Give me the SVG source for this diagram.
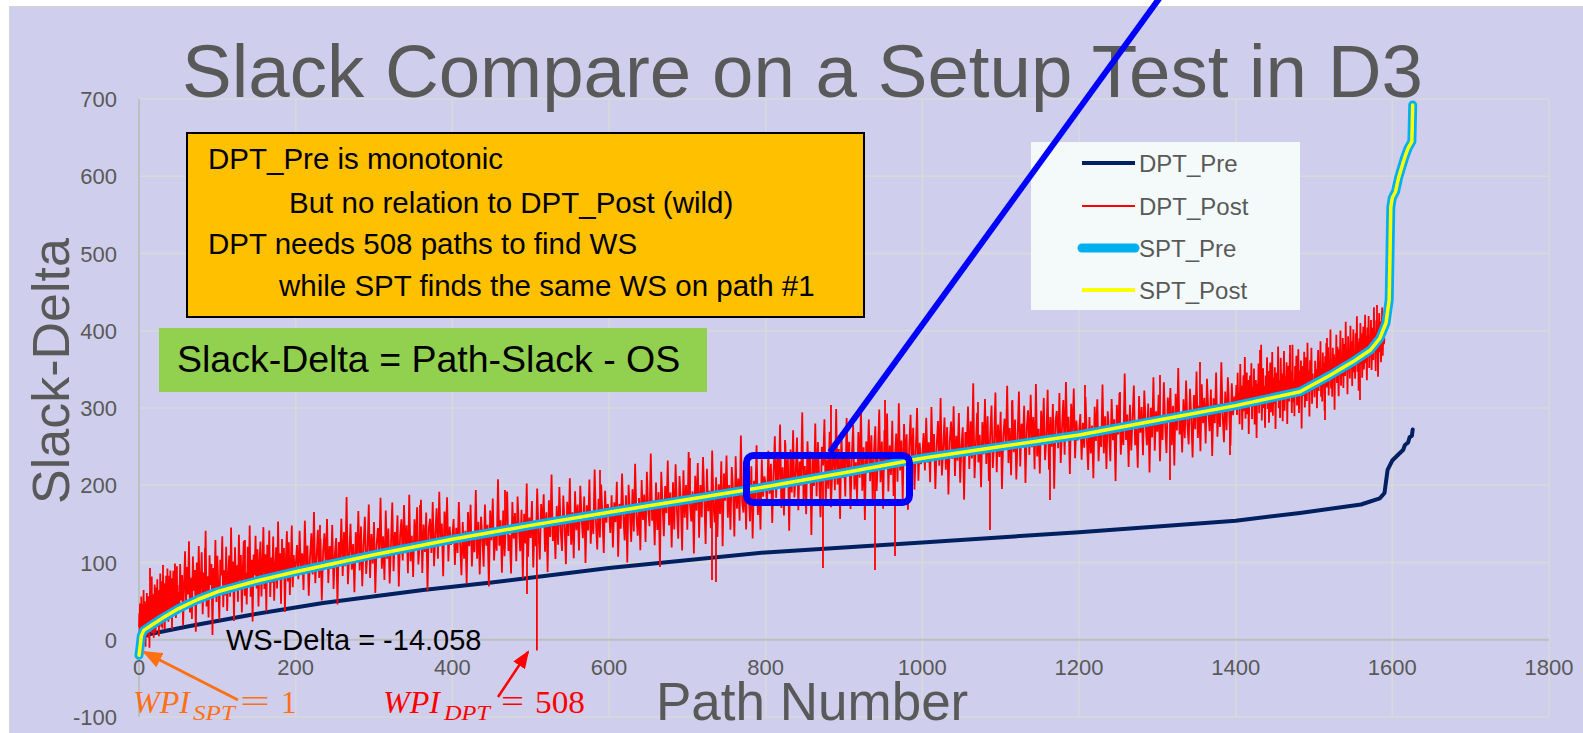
<svg xmlns="http://www.w3.org/2000/svg" xmlns:xlink="http://www.w3.org/1999/xlink" width="1583" height="733" viewBox="0 0 1583 733">
<style>
.grid{stroke:#d9d9d9;stroke-width:1.5;fill:none}
.axis{stroke:#bfbfbf;stroke-width:2;fill:none}
.tick{font-family:"Liberation Sans",Arial,sans-serif;font-size:22px;fill:#595959}
.ytick{text-anchor:end}
.xtick{text-anchor:middle}
.red{fill:none;stroke:#ff0000;stroke-width:1.8;stroke-linejoin:miter;vector-effect:non-scaling-stroke}
.navy{fill:none;stroke:#002060;stroke-width:4;stroke-linejoin:round;stroke-linecap:round}
.cyan{fill:none;stroke:#00b0f0;stroke-width:9;stroke-linejoin:round;stroke-linecap:round}
.yel{fill:none;stroke:#ffff00;stroke-width:3.5;stroke-linejoin:round;stroke-linecap:round}
.sans{font-family:"Liberation Sans",Arial,sans-serif}
.leg{font-family:"Liberation Sans",Arial,sans-serif;font-size:24px;fill:#595959}
.math{font-family:"Liberation Serif","Times New Roman",serif}
</style>
<defs>
<path id="nA" class="red" d="M0 0L1 -18 2 12 3 -30 4 6 5 -10 6 22 7 -38 8 4 9 -16 10 28 11 -6 12 -26 13 10 14 -44 15 18 16 -4 17 -28 18 14 19 -20 20 34 21 -8 22 -24 23 6 24 -36 25 20 26 -12 27 8 28 -30 29 26 30 -4 31 -18 32 40 33 -14 34 2 35 -34 36 16 37 -22 38 8 39 -52 40 24 41 -2 42 -28 43 12 44 -10 45 32 46 -20 47 6 48 -38 49 14 50 -24 51 28 52 -8 53 -32 54 18 55 -2 56 -42 57 22 58 -16 59 10 60 -26 61 36 62 -6 63 -20 64 4 65 -46 66 16 67 -12 68 26 69 -34 70 8 71 -18 72 30 73 -4 74 -40 75 20 76 -14 77 2 78 -28 79 34 80 -10 81 -24 82 12 83 -36 84 6 85 -18 86 24 87 -44 88 14 89 -8 90 28 91 -22 92 4 93 -32 94 18 95 0 96 -38 97 26 98 -16 99 8 100 -26 101 42 102 -12 103 -20 104 10 105 -34 106 22 107 -6 108 -28 109 16 110 -42 111 4 112 -14 113 32 114 -24 115 0 116 -36 117 20 118 -10 119 6 120 0"/>
<path id="nB" class="red" d="M0 0L1 16 2 -24 3 8 4 -14 5 30 6 -6 7 -34 8 12 9 -20 10 4 11 -42 12 20 13 -10 14 26 15 -28 16 2 17 -16 18 38 19 -22 20 10 21 -36 22 14 23 -4 24 -30 25 24 26 -12 27 6 28 -48 29 18 30 -8 31 28 32 -26 33 0 34 -18 35 44 36 -14 37 8 38 -38 39 16 40 -24 41 4 42 32 43 -20 44 -6 45 -40 46 22 47 -10 48 12 49 -30 50 26 51 -2 52 -22 53 14 54 -46 55 10 56 -16 57 36 58 -28 59 6 60 -12 61 20 62 -38 63 2 64 -20 65 30 66 -8 67 -32 68 16 69 -4 70 24 71 -26 72 8 73 -44 74 18 75 -14 76 40 77 -18 78 0 79 -34 80 12 81 -22 82 28 83 -10 84 -28 85 20 86 -6 87 -40 88 14 89 -16 90 34 91 -24 92 4 93 -36 94 22 95 -12 96 10 97 -30 98 26 99 -2 100 -20 101 16 102 -42 103 8 104 -14 105 30 106 -26 107 2 108 -18 109 38 110 -8 111 -32 112 12 113 -22 114 24 115 -4 116 -36 117 18 118 -10 119 6 120 0"/>
<marker id="ahO" markerWidth="20" markerHeight="16" refX="18" refY="8" orient="auto" markerUnits="userSpaceOnUse"><path d="M0 0L20 8L0 16Z" fill="#ff7014"/></marker>
<marker id="ahR" markerWidth="18" markerHeight="14" refX="16" refY="7" orient="auto" markerUnits="userSpaceOnUse"><path d="M0 0L18 7L0 14Z" fill="#ff0000"/></marker>
</defs>

<rect id="background" x="9.5" y="6.5" width="1580" height="730" fill="#cfcfed" stroke="#d4d4d4" stroke-width="1"/>

<g id="grid">
<path class="grid" d="M139 176.2H1549M139 253.5H1549M139 330.7H1549M139 408H1549M139 485.2H1549M139 562.5H1549M139 716.9H1549M139 99H1549"/>
<path class="grid" d="M295.7 99V717M452.3 99V717M609 99V717M765.7 99V717M922.3 99V717M1079 99V717M1235.7 99V717M1392.3 99V717M1549 99V717"/>
<path class="axis" d="M139 639.7H1549M139 99V717"/>
</g>

<g id="y-ticks" class="tick ytick">
<text x="117" y="107">700</text>
<text x="117" y="184">600</text>
<text x="117" y="261.5">500</text>
<text x="117" y="338.7">400</text>
<text x="117" y="416">300</text>
<text x="117" y="493.2">200</text>
<text x="117" y="570.5">100</text>
<text x="117" y="647.7">0</text>
<text x="117" y="724.9">-100</text>
</g>
<g id="x-ticks" class="tick xtick">
<text x="139" y="675">0</text>
<text x="295.7" y="675">200</text>
<text x="452.3" y="675">400</text>
<text x="609" y="675">600</text>
<text x="765.7" y="675">800</text>
<text x="922.3" y="675">1000</text>
<text x="1079" y="675">1200</text>
<text x="1235.7" y="675">1400</text>
<text x="1392.3" y="675">1600</text>
<text x="1549" y="675">1800</text>
</g>

<g id="series-dpt-pre">
<path class="navy" d="M139 637.4L150 634 190 626 250 615 323 603 423 590 491.5 582.5 609 568 765.7 552.4 922.3 542.4 1079 532.3 1235.7 520.7 1299.9 513 1361 504.5 1379.8 498.3 1384.5 493 1387.6 469.8 1392.3 460.5 1398.6 454.3 1403.3 449.7 1404.9 445 1408 442.7 1409.6 437.3 1411.9 435.8 1412.7 429.6"/>
</g>

<g id="series-dpt-post">
<use xlink:href="#nA" transform="matrix(0.3267,-0.2917,0,0.75,139,627)"/>
<use xlink:href="#nB" transform="matrix(0.9792,-0.2167,0,1.15,178.2,592)"/>
<use xlink:href="#nA" transform="matrix(1.305,-0.2358,0,1.15,295.7,566)"/>
<use xlink:href="#nB" transform="matrix(1.3058,-0.225,0,-1.15,452.3,537.7)"/>
<use xlink:href="#nA" transform="matrix(1.3058,-0.225,0,-1.25,609,510.7)"/>
<use xlink:href="#nB" transform="matrix(1.305,-0.2325,0,1.35,765.7,483.7)"/>
<use xlink:href="#nA" transform="matrix(1.3058,-0.1925,0,1.25,922.3,455.8)"/>
<use xlink:href="#nB" transform="matrix(1.3058,-0.245,0,-1.15,1079,432.7)"/>
<use xlink:href="#nA" transform="matrix(0.6525,-0.1675,0,1,1235.7,403.3)"/>
<use xlink:href="#nB" transform="matrix(0.5875,-0.3733,0,0.9,1314,383.2)"/>
<path class="red" d="M150 618V568M163 606V565M205 588V548M245 579V540M320 562V525M420 543V505M505 529V490M600 512.5V470M690 497V458M785 480.6V440M831 472V405M885 462.7V400M978 447.8V402M1012 442.9V401M1085 431.9V385M1120 425.2V392M1160 417.5V375M1200 409.9V362M1260 396.9V350M1290 389.2V345M1327 374.6V338M1377 342.5V305M527 525V594M536.9 523.4V650.5M712 493.3V580M716 492.6V582M823 473.8V568M875 464.5V570M895 460.9V556M990 446V530M1050 437.2V500M1170 415.6V480M1230 404V455M1325 375.9V420M1360 353.4V400"/>
</g>

<g id="series-spt-pre">
<path class="cyan" d="M139 655.2L139.8 649 141.3 635.8 143.7 630.4 150.7 625.8 162.5 618.1 178.2 608.8 197.7 599.5 217.3 591.8 256.5 581 295.7 571.7 374 554.7 452.3 539.3 530.7 525.4 609 512.2 699.9 497.6 765.7 486.7 844 472.8 922.3 458.2 1000.7 446.6 1079 435 1157.3 420.3 1235.7 405.6 1299.9 391.7 1329.7 375.5 1353.2 361.6 1370.4 350 1379.8 338.4 1386 323 1389.2 299.8 1390 253.4 1390.8 207.1 1392.3 197.8 1395.5 191.7 1398.6 177.7 1401.8 166.9 1404.9 156.9 1408 148.4 1411.9 141.4 1412.7 105.1"/>
</g>
<g id="series-spt-post">
<path class="yel" d="M139 655.2L139.8 649 141.3 635.8 143.7 630.4 150.7 625.8 162.5 618.1 178.2 608.8 197.7 599.5 217.3 591.8 256.5 581 295.7 571.7 374 554.7 452.3 539.3 530.7 525.4 609 512.2 699.9 497.6 765.7 486.7 844 472.8 922.3 458.2 1000.7 446.6 1079 435 1157.3 420.3 1235.7 405.6 1299.9 391.7 1329.7 375.5 1353.2 361.6 1370.4 350 1379.8 338.4 1386 323 1389.2 299.8 1390 253.4 1390.8 207.1 1392.3 197.8 1395.5 191.7 1398.6 177.7 1401.8 166.9 1404.9 156.9 1408 148.4 1411.9 141.4 1412.7 105.1"/>
</g>

<g id="title">
<text x="182" y="97" class="sans" font-size="74" fill="#595959" textLength="1241" lengthAdjust="spacingAndGlyphs">Slack Compare on a Setup Test in D3</text>
</g>

<g id="axis-titles">
<text x="656" y="720" class="sans" font-size="53" fill="#595959">Path Number</text>
<text transform="translate(69 371) rotate(-90)" text-anchor="middle" class="sans" font-size="52" fill="#595959">Slack-Delta</text>
</g>

<g id="legend">
<rect x="1031" y="142" width="269" height="168" fill="#f3faf9"/>
<path d="M1082 163H1135" stroke="#002060" stroke-width="4"/>
<path d="M1082 206H1135" stroke="#ff0000" stroke-width="2"/>
<path d="M1082 248H1135" stroke="#00b0f0" stroke-width="9" stroke-linecap="round"/>
<path d="M1082 290H1135" stroke="#ffff00" stroke-width="4"/>
<text class="leg" x="1139" y="171.5">DPT_Pre</text>
<text class="leg" x="1139" y="214.5">DPT_Post</text>
<text class="leg" x="1139" y="256.5">SPT_Pre</text>
<text class="leg" x="1139" y="298.5">SPT_Post</text>
</g>

<g id="note-box">
<rect x="187" y="133" width="677" height="184" fill="#ffc000" stroke="#000" stroke-width="2"/>
<text class="sans" font-size="29.5" x="208" y="169">DPT_Pre is monotonic</text>
<text class="sans" font-size="29.5" x="289" y="213">But no relation to DPT_Post (wild)</text>
<text class="sans" font-size="29.5" x="208" y="254">DPT needs 508 paths to find WS</text>
<text class="sans" font-size="29.5" x="279" y="296">while SPT finds the same WS on path #1</text>
</g>

<g id="formula-box">
<rect x="159" y="328" width="548" height="64" fill="#92d050"/>
<text class="sans" font-size="37.5" x="177" y="372">Slack-Delta = Path-Slack - OS</text>
</g>

<g id="ws-delta">
<text class="sans" font-size="29" x="226" y="650">WS-Delta = -14.058</text>
</g>

<g id="wpi-spt" fill="#ff7014">
<text class="math" font-style="italic" font-size="31" x="133" y="713" textLength="57" lengthAdjust="spacingAndGlyphs">WPI</text>
<text class="math" font-style="italic" font-size="21" x="193" y="720" textLength="42" lengthAdjust="spacingAndGlyphs">SPT</text>
<text class="math" font-size="31" x="240" y="712" textLength="30" lengthAdjust="spacingAndGlyphs">=</text>
<text class="math" font-size="31" x="281" y="713">1</text>
</g>
<g id="wpi-dpt" fill="#ff0000">
<text class="math" font-style="italic" font-size="31" x="383" y="713" textLength="57" lengthAdjust="spacingAndGlyphs">WPI</text>
<text class="math" font-style="italic" font-size="21" x="444" y="720" textLength="46" lengthAdjust="spacingAndGlyphs">DPT</text>
<text class="math" font-size="31" x="501" y="712" textLength="23" lengthAdjust="spacingAndGlyphs">=</text>
<text class="math" font-size="31" x="535" y="713" textLength="50" lengthAdjust="spacingAndGlyphs">508</text>
</g>

<g id="connectors">
<path d="M238 700L144 652" stroke="#ff7014" stroke-width="3" fill="none" marker-end="url(#ahO)"/>
<path d="M498 697L528 652" stroke="#ff0000" stroke-width="2.5" fill="none" marker-end="url(#ahR)"/>
<path d="M1161 -4L830 452" stroke="#0000ff" stroke-width="6" fill="none"/>
</g>

<g id="zoom-box">
<rect x="746.5" y="455.5" width="163" height="47" rx="7" fill="none" stroke="#0000ff" stroke-width="7"/>
</g>
</svg>
